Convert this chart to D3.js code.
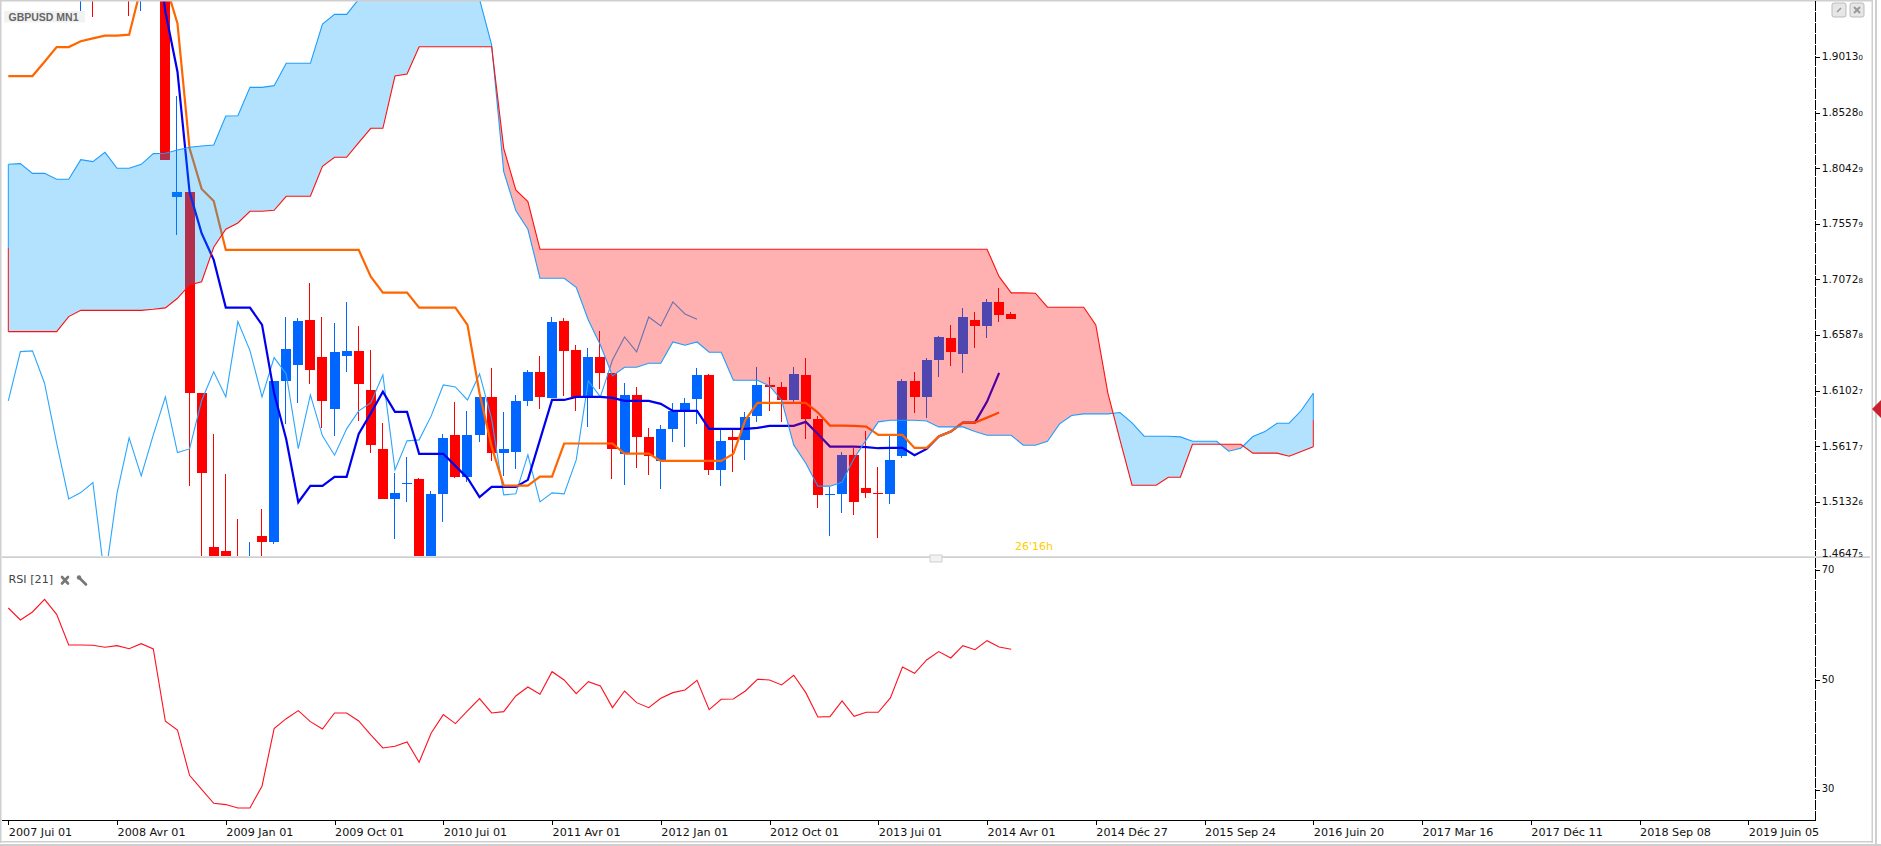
<!DOCTYPE html>
<html><head><meta charset="utf-8">
<style>
html,body{margin:0;padding:0;background:#fff;overflow:hidden}
svg{display:block}
</style>
<script src="https://cdnjs.cloudflare.com/ajax/libs/d3/7.8.5/d3.min.js"></script>
</head><body><svg id="c" width="1881" height="846" font-family="DejaVu Sans"></svg>
<script>
const symbol="GBPUSD MN1", rsiLabel="RSI [21]", countdown="26'16h";
const timeLabels=["2007 Jui 01","2008 Avr 01","2009 Jan 01","2009 Oct 01","2010 Jui 01","2011 Avr 01","2012 Jan 01","2012 Oct 01","2013 Jui 01","2014 Avr 01","2014 Déc 27","2015 Sep 24","2016 Juin 20","2017 Mar 16","2017 Déc 11","2018 Sep 08","2019 Juin 05"];
const priceTicks=["1.90130","1.85280","1.80429","1.75579","1.70728","1.65878","1.61027","1.56177","1.51326","1.46475"];
const rsiTicks=[70,50,30];
const open=[2.0060,2.0300,2.0150,2.0400,2.0800,2.0600,1.9800,1.9900,1.9860,1.9850,1.9800,1.9680,1.9900,1.9890,1.7795,1.7836,1.6080,1.4739,1.4705,1.4500,1.4100,1.4835,1.4783,1.6190,1.6327,1.6719,1.6396,1.5946,1.6405,1.6449,1.6109,1.5594,1.5158,1.5289,1.5332,1.4452,1.5202,1.5716,1.5350,1.5716,1.6048,1.5559,1.5568,1.6013,1.6266,1.6039,1.6710,1.6458,1.6048,1.6396,1.6257,1.5551,1.6065,1.5699,1.5489,1.5769,1.5926,1.6030,1.6240,1.5411,1.5699,1.5673,1.5882,1.6152,1.6135,1.6021,1.6240,1.5856,1.5193,1.5202,1.5542,1.5254,1.5210,1.5202,1.5533,1.6187,1.6048,1.6370,1.6562,1.6423,1.6719,1.6667,1.6876,1.6771];
const high=[2.0654,2.0400,2.0480,2.0900,2.1100,2.0650,1.9990,2.0390,2.0000,2.0000,1.9900,2.0000,2.0000,1.9950,1.8673,1.7836,1.6080,1.5725,1.5376,1.4984,1.4783,1.5071,1.6190,1.6745,1.6737,1.7042,1.6745,1.6693,1.6876,1.6667,1.6458,1.5821,1.5385,1.5524,1.5341,1.5228,1.5725,1.6004,1.5926,1.6048,1.6301,1.5917,1.6065,1.6283,1.6405,1.6745,1.6737,1.6501,1.6475,1.6623,1.6257,1.6170,1.6135,1.5777,1.5803,1.5995,1.6039,1.6301,1.6248,1.5760,1.5769,1.5917,1.6309,1.6222,1.6178,1.6309,1.6388,1.5882,1.5263,1.5568,1.5603,1.5751,1.5437,1.5708,1.6205,1.6266,1.6388,1.6580,1.6676,1.6824,1.6789,1.6902,1.6998,1.6789];
const low=[2.0000,1.9680,1.9960,2.0300,2.0200,1.9800,1.9417,1.9365,1.9590,1.9560,1.9373,1.9417,1.9560,1.8115,1.7461,1.5274,1.4550,1.4200,1.3900,1.3800,1.3500,1.4200,1.4766,1.5812,1.5995,1.6161,1.5777,1.5708,1.6266,1.5841,1.5559,1.5158,1.4812,1.5132,1.4300,1.4400,1.4958,1.5341,1.5306,1.5655,1.5489,1.5359,1.5420,1.5969,1.5943,1.6039,1.6056,1.5926,1.5786,1.6117,1.5332,1.5280,1.5428,1.5367,1.5245,1.5655,1.5612,1.5812,1.5367,1.5271,1.5394,1.5498,1.5830,1.5926,1.5830,1.6004,1.5681,1.5080,1.4835,1.5036,1.5019,1.5167,1.4818,1.5115,1.5516,1.5908,1.5865,1.6222,1.6318,1.6257,1.6475,1.6562,1.6702,1.6728];
const close=[2.0300,2.0150,2.0400,2.0800,2.0600,1.9900,1.9900,1.9860,1.9850,1.9800,1.9680,1.9900,1.9890,1.8115,1.7836,1.6085,1.5388,1.4400,1.4300,1.4100,1.4400,1.4783,1.6190,1.6466,1.6710,1.6286,1.6016,1.6440,1.6449,1.6164,1.5632,1.5158,1.5210,1.5298,1.4452,1.5202,1.5690,1.5350,1.5716,1.6048,1.5559,1.5594,1.6013,1.6266,1.6048,1.6702,1.6449,1.6048,1.6396,1.6257,1.5594,1.6065,1.5699,1.5533,1.5769,1.5926,1.5995,1.6240,1.5411,1.5664,1.5673,1.5873,1.6152,1.6135,1.6021,1.6248,1.5856,1.5193,1.5202,1.5542,1.5132,1.5210,1.5202,1.5498,1.6187,1.6048,1.6370,1.6571,1.6440,1.6745,1.6667,1.6876,1.6763,1.6728];
const tenkan=[null,null,null,null,null,null,null,null,null,null,null,null,2.0200,1.9408,1.8885,1.7836,1.7475,1.7243,1.6827,1.6827,1.6827,1.6676,1.6079,1.5678,1.5129,1.5271,1.5271,1.5350,1.5350,1.5725,1.5905,1.6094,1.5917,1.5917,1.5551,1.5551,1.5551,1.5446,1.5341,1.5173,1.5263,1.5263,1.5263,1.5324,1.5673,1.6021,1.6021,1.6048,1.6048,1.6048,1.6039,1.6013,1.6013,1.6013,1.5987,1.5926,1.5926,1.5926,1.5769,1.5769,1.5769,1.5769,1.5777,1.5795,1.5795,1.5795,1.5830,1.5725,1.5614,1.5614,1.5614,1.5609,1.5600,1.5603,1.5603,1.5539,1.5594,1.5702,1.5745,1.5824,1.5824,1.6007,1.6257];
const kijun=[1.8847,1.8847,1.8847,1.8972,1.9100,1.9100,1.9150,1.9176,1.9199,1.9199,1.9208,1.9626,1.9800,1.9655,1.9306,1.8216,1.7862,1.7757,1.7330,1.7330,1.7330,1.7330,1.7330,1.7330,1.7330,1.7330,1.7330,1.7330,1.7330,1.7330,1.7097,1.6958,1.6958,1.6958,1.6827,1.6827,1.6827,1.6827,1.6676,1.6080,1.5614,1.5274,1.5274,1.5274,1.5353,1.5353,1.5641,1.5641,1.5641,1.5641,1.5641,1.5553,1.5553,1.5553,1.5489,1.5489,1.5489,1.5489,1.5489,1.5489,1.5551,1.5847,1.5995,1.5995,1.5995,1.5995,1.5995,1.5911,1.5798,1.5798,1.5795,1.5789,1.5716,1.5716,1.5716,1.5603,1.5603,1.5702,1.5745,1.5824,1.5824,1.5867,1.5911];
const chikou=[1.6013,1.6443,1.6449,1.6167,1.5644,1.5158,1.5213,1.5301,1.4452,1.5208,1.5690,1.5359,1.5716,1.6048,1.5562,1.5594,1.6016,1.6266,1.6048,1.6705,1.6452,1.6048,1.6391,1.6248,1.5597,1.6065,1.5708,1.5539,1.5769,1.5926,1.5995,1.6240,1.5411,1.5664,1.5673,1.5882,1.6152,1.6135,1.6021,1.6248,1.5856,1.5193,1.5202,1.5542,1.5132,1.5210,1.5202,1.5498,1.6187,1.6048,1.6370,1.6571,1.6440,1.6745,1.6667,1.6876,1.6771,1.6725];
const senkouA=[1.8077,1.8083,1.7998,1.7998,1.7946,1.7946,1.8118,1.8100,1.8181,1.8042,1.8042,1.8077,1.8170,1.8173,1.8202,1.8225,1.8237,1.8245,1.8498,1.8501,1.8748,1.8748,1.8763,1.8958,1.8958,1.8958,1.9301,1.9385,1.9385,1.9517,1.9600,1.9600,1.9600,1.9600,1.9600,1.9600,1.9600,1.9600,1.9600,1.9517,1.9118,1.8013,1.7673,1.7510,1.7083,1.7083,1.7083,1.7004,1.6719,1.6501,1.6231,1.6306,1.6306,1.6341,1.6341,1.6527,1.6498,1.6527,1.6437,1.6437,1.6193,1.6193,1.6193,1.6144,1.6019,1.5629,1.5469,1.5269,1.5269,1.5303,1.5513,1.5673,1.5830,1.5844,1.5844,1.5844,1.5838,1.5786,1.5786,1.5786,1.5745,1.5713,1.5713,1.5713,1.5626,1.5626,1.5661,1.5812,1.5885,1.5900,1.5900,1.5900,1.5911,1.5821,1.5705,1.5705,1.5705,1.5699,1.5661,1.5661,1.5661,1.5574,1.5600,1.5702,1.5745,1.5818,1.5818,1.5929,1.6080];
const senkouB=[1.6617,1.6617,1.6617,1.6617,1.6617,1.6748,1.6803,1.6803,1.6803,1.6803,1.6803,1.6803,1.6812,1.6824,1.6908,1.7024,1.7052,1.7353,1.7510,1.7565,1.7667,1.7667,1.7676,1.7798,1.7798,1.7798,1.8059,1.8138,1.8138,1.8266,1.8391,1.8391,1.8847,1.8865,1.9103,1.9103,1.9103,1.9103,1.9103,1.9103,1.9103,1.8216,1.7853,1.7751,1.7336,1.7336,1.7336,1.7336,1.7336,1.7336,1.7336,1.7336,1.7336,1.7336,1.7336,1.7336,1.7336,1.7336,1.7336,1.7336,1.7336,1.7336,1.7336,1.7336,1.7336,1.7336,1.7336,1.7336,1.7336,1.7336,1.7336,1.7336,1.7336,1.7336,1.7336,1.7336,1.7336,1.7336,1.7336,1.7336,1.7336,1.7336,1.7097,1.6955,1.6955,1.6952,1.6830,1.6830,1.6830,1.6830,1.6676,1.6080,1.5673,1.5277,1.5277,1.5277,1.5347,1.5347,1.5635,1.5635,1.5635,1.5635,1.5635,1.5557,1.5557,1.5557,1.5530,1.5571,1.5612];
const rsi=[63.08,60.89,62.35,64.66,61.92,56.34,56.34,56.28,55.92,56.22,55.67,56.58,55.61,42.44,40.86,32.61,30.06,27.51,27.27,26.66,26.66,30.66,41.10,42.92,44.38,42.38,41.04,43.96,43.96,42.50,39.95,37.58,37.89,38.68,34.97,40.32,43.65,42.02,44.32,46.57,43.96,44.20,47.05,48.69,47.36,51.48,49.97,47.48,49.66,48.87,44.93,47.96,45.84,44.93,46.63,47.66,48.15,49.91,44.56,46.45,46.51,47.96,50.09,49.97,49.06,50.82,47.66,43.23,43.29,46.14,43.35,44.08,44.08,46.69,52.33,51.18,53.61,55.13,53.97,56.22,55.49,57.13,55.98,55.55];

const W=1881, axisX=1815.7, splitY=557, rsiBottom=820.3, axisColor="#111";
const x=d3.scaleLinear().domain([0,144]).range([8.3,1748.3]);
const y=d3.scaleLinear().domain([1.9013,1.51326]).range([57,501.8]);
const yR=d3.scaleLinear().domain([70,30]).range([570,789.6]);
const step=x(1)-x(0), bodyW=Math.round(step*0.83);
const px=i=>Math.round(x(i));
const svg=d3.select("#c");
const defs=svg.append("defs");
defs.append("clipPath").attr("id","mainClip").append("rect").attr("x",2).attr("y",1).attr("width",axisX-2).attr("height",splitY-2);

const main=svg.append("g").attr("clip-path","url(#mainClip)");
const candles=d3.range(open.length).map(i=>({i,o:open[i],h:high[i],l:low[i],c:close[i]}));
const cg=main.append("g").attr("shape-rendering","crispEdges");
const colorOf=d=>d.c>=d.o?"#0066ff":"#ff0000";
cg.selectAll("line").data(candles).join("line")
  .attr("x1",d=>px(d.i)-.5).attr("x2",d=>px(d.i)-.5)
  .attr("y1",d=>y(d.h)).attr("y2",d=>y(d.l)).attr("stroke",colorOf);
cg.selectAll("rect").data(candles).join("rect")
  .attr("x",d=>px(d.i)-bodyW/2).attr("width",bodyW)
  .attr("y",d=>y(Math.max(d.o,d.c)))
  .attr("height",d=>Math.max(1,Math.abs(y(d.o)-y(d.c))))
  .attr("fill",colorOf);

const lineOf=(arr)=>d3.line().defined(d=>d!=null).x((d,i)=>x(i)).y(d=>y(d))(arr);
main.append("path").attr("d",lineOf(chikou)).attr("fill","none").attr("stroke","#2aa6ff").attr("stroke-width",1.1);
main.append("path").attr("d",lineOf(tenkan)).attr("fill","none").attr("stroke","#0000f0").attr("stroke-width",2.2);
main.append("path").attr("d",lineOf(kijun)).attr("fill","none").attr("stroke","#ff6600").attr("stroke-width",2.2);

// cloud: insert crossing points so the two fills meet exactly
const cloud=[];
senkouA.forEach((a,i)=>{
  const b=senkouB[i];
  cloud.push({i,a,b});
  if(i<senkouA.length-1){
    const a2=senkouA[i+1],b2=senkouB[i+1],d1=a-b,d2=a2-b2;
    if(d1*d2<0){const t=d1/(d1-d2);cloud.push({i:i+t,a:a+(a2-a)*t,b:b+(b2-b)*t});}
  }
});
const area=d3.area().x(d=>x(d.i));
main.append("path").attr("fill","rgb(0,160,247)").attr("fill-opacity",.3)
  .attr("d",area.y0(d=>y(d.a)).y1(d=>y(Math.min(d.a,d.b)))(cloud));
main.append("path").attr("fill","#ff0000").attr("fill-opacity",.31)
  .attr("d",area.y0(d=>y(d.b)).y1(d=>y(Math.min(d.a,d.b)))(cloud));
main.append("path").attr("d",lineOf(senkouA)).attr("fill","none").attr("stroke","#1e9dff").attr("stroke-width",1.1);
main.append("path").attr("d",lineOf(senkouB)).attr("fill","none").attr("stroke","#ff1010").attr("stroke-width",1.1);
// closing edges of the cloud, half in each colour
[0,senkouA.length-1].forEach(i=>{
  const mid=(senkouA[i]+senkouB[i])/2;
  main.append("line").attr("x1",x(i)).attr("x2",x(i)).attr("y1",y(senkouA[i])).attr("y2",y(mid)).attr("stroke","#1e9dff");
  main.append("line").attr("x1",x(i)).attr("x2",x(i)).attr("y1",y(mid)).attr("y2",y(senkouB[i])).attr("stroke","#ff1010");
});

// RSI
svg.append("path").attr("d",d3.line().x((d,i)=>x(i)).y(d=>yR(d))(rsi)).attr("fill","none").attr("stroke","#ff1020").attr("stroke-width",1.1);

// frame
const frame=svg.append("g").attr("fill","#cfcfcf");
frame.append("rect").attr("x",0).attr("y",0).attr("width",1873).attr("height",1.5);
frame.append("rect").attr("x",0).attr("y",0).attr("width",1.5).attr("height",843);
frame.append("rect").attr("x",0).attr("y",841).attr("width",1873).attr("height",1.5);
frame.append("rect").attr("x",0).attr("y",844).attr("width",W).attr("height",2);
frame.append("rect").attr("x",1871.5).attr("y",0).attr("width",1.5).attr("height",843);
frame.append("rect").attr("x",1875).attr("y",0).attr("width",2).attr("height",846);
frame.append("rect").attr("x",2).attr("y",556.3).attr("width",1868).attr("height",1.7);
svg.append("rect").attr("x",930).attr("y",555).attr("width",12).attr("height",7).attr("fill","#f2f2f2").attr("stroke","#cfcfcf");

// axes
const priceAxis=svg.append("g").attr("transform",`translate(${axisX},0)`)
  .call(d3.axisRight(y).tickValues(priceTicks.map(Number)).tickSize(4).tickSizeOuter(0).tickPadding(2).tickFormat(""));
priceAxis.select(".domain").attr("d",`M0,1V${splitY-1}`);
priceAxis.selectAll(".tick text").each(function(d,i){
  const t=d3.select(this),s=priceTicks[i];
  t.text(null).attr("font-size",10.5).attr("fill",axisColor).attr("font-family","DejaVu Sans").attr("dy","0.28em");
  t.append("tspan").text(s.slice(0,-1));
  t.append("tspan").attr("font-size",7).text(s.slice(-1));
  if(i===priceTicks.length-1) t.attr("dy","-0.9");
});
priceAxis.selectAll(".tick").filter((d,i)=>i===priceTicks.length-1).select("line").remove();

const rsiAxis=svg.append("g").attr("transform",`translate(${axisX},0)`)
  .call(d3.axisRight(yR).tickValues(rsiTicks).tickSize(4).tickSizeOuter(0).tickPadding(2));
rsiAxis.select(".domain").attr("d",`M0,${splitY+1}V${rsiBottom}`);
rsiAxis.selectAll("text").attr("font-size",10).attr("fill",axisColor).attr("font-family","DejaVu Sans").attr("dy","0.22em");

const timeAxis=svg.append("g").attr("transform",`translate(0,${rsiBottom})`)
  .call(d3.axisBottom(x).tickValues(timeLabels.map((d,i)=>i*9)).tickSize(5).tickSizeOuter(0).tickPadding(2.5).tickFormat((d,i)=>timeLabels[i]));
timeAxis.select(".domain").attr("d",`M2,0H${axisX}`);
timeAxis.selectAll("text").attr("text-anchor","start").attr("font-size",11.2).attr("fill",axisColor).attr("font-family","DejaVu Sans");
[priceAxis,rsiAxis].forEach(a=>a.select(".domain").attr("stroke","#000").attr("stroke-dasharray","10 1"));
[priceAxis,rsiAxis,timeAxis].forEach(a=>a.attr("shape-rendering","crispEdges"));

// labels
svg.append("rect").attr("x",4).attr("y",11).attr("width",81).attr("height",11.5).attr("fill","#f2f2f2");
svg.append("text").attr("x",8.5).attr("y",21).attr("font-size",10.5).attr("font-weight","bold").attr("fill","#666")
  .attr("font-family","Liberation Sans").text(symbol);
svg.append("text").attr("x",8.5).attr("y",583).attr("font-size",11.2).attr("fill","#444").text(rsiLabel);
svg.append("text").attr("x",1015).attr("y",550).attr("font-size",11).attr("fill","#ffcc00").text(countdown);

// small RSI icons
const ic=svg.append("g").attr("stroke","#777").attr("stroke-linecap","round");
ic.append("path").attr("d","M62,577 L68,583.5 M68,577 L62,583.5").attr("stroke-width",2.6);
ic.append("path").attr("d","M79,577.5 L86,584.5").attr("stroke-width",2.6);
ic.append("circle").attr("cx",79).attr("cy",577.5).attr("r",2.2).attr("fill","#777").attr("stroke","none");

// window buttons
[1832,1850].forEach((bx,k)=>{
  svg.append("rect").attr("x",bx).attr("y",3).attr("width",14).attr("height",14).attr("rx",2).attr("fill","#e6e6e6").attr("stroke","#bbb");
  svg.append("path").attr("d",k?`M${bx+4},7 L${bx+10},13 M${bx+10},7 L${bx+4},13`:`M${bx+5},12 L${bx+9},8`).attr("stroke","#999").attr("stroke-width",k?2:1.6);
});
// price marker
const my=409;
svg.append("path").attr("d",`M1872,${my} L1881,${my-9} L1881,${my+9} Z`).attr("fill","#c8202e");
</script></body></html>
